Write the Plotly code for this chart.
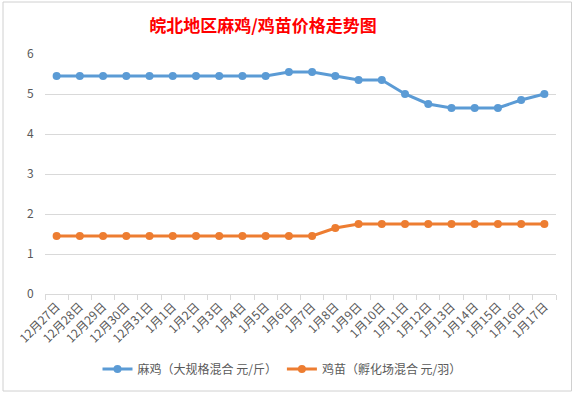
import plotly.graph_objects as go

dates = ["12月27日", "12月28日", "12月29日", "12月30日", "12月31日",
         "1月1日", "1月2日", "1月3日", "1月4日", "1月5日", "1月6日", "1月7日",
         "1月8日", "1月9日", "1月10日", "1月11日", "1月12日", "1月13日",
         "1月14日", "1月15日", "1月16日", "1月17日"]
maji = [5.45, 5.45, 5.45, 5.45, 5.45, 5.45, 5.45, 5.45, 5.45, 5.45, 5.55, 5.55,
        5.45, 5.35, 5.35, 5.0, 4.75, 4.65, 4.65, 4.65, 4.85, 5.0]
jimiao = [1.45, 1.45, 1.45, 1.45, 1.45, 1.45, 1.45, 1.45, 1.45, 1.45, 1.45, 1.45,
          1.65, 1.75, 1.75, 1.75, 1.75, 1.75, 1.75, 1.75, 1.75, 1.75]
name1 = "麻鸡（大规格混合 元/斤）"
name2 = "鸡苗（孵化场混合 元/羽）"
title = "皖北地区麻鸡/鸡苗价格走势图"
yticks = [0, 1, 2, 3, 4, 5, 6]

W, H = 574, 393
L, R, T, B = 45, 18, 54, 99
pw, ph = W - L - R, H - T - B

def px(x):
    return (x - L) / pw

def py(y):
    return (H - B - y) / ph

fig = go.Figure()
fig.add_trace(go.Scatter(x=dates, y=maji, name=name1, mode="lines+markers",
                         line=dict(color="#5B9BD5", width=3),
                         marker=dict(size=8, color="#5B9BD5")))
fig.add_trace(go.Scatter(x=dates, y=jimiao, name=name2, mode="lines+markers",
                         line=dict(color="#ED7D31", width=3),
                         marker=dict(size=8, color="#ED7D31")))

fig.update_layout(
    width=W, height=H,
    margin=dict(l=L, r=R, t=T, b=B, autoexpand=False),
    paper_bgcolor="white", plot_bgcolor="white",
    font=dict(family="Noto Sans CJK SC", color="#595959", size=12),
    title=dict(text="<b>" + title + "</b>", x=263 / W, xanchor="center",
               y=1 - 26 / H, yanchor="middle",
               font=dict(family="Noto Sans CJK SC", size=17, color="#FF0000")),
    showlegend=True,
    legend=dict(orientation="h", x=282 / W, xref="container", xanchor="center",
                y=1 - 369 / H, yref="container", yanchor="middle",
                font=dict(size=12, color="#595959"), itemwidth=30,
                bgcolor="rgba(0,0,0,0)"),
    xaxis=dict(type="category", range=[-0.5, len(dates) - 0.5], showgrid=False,
               showline=True, linecolor="#D9D9D9",
               linewidth=1, ticks="outside", ticklen=5, tickcolor="#D9D9D9",
               tickson="boundaries", tickangle=-45, automargin=False,
               tickfont=dict(size=12, color="#595959"), fixedrange=True),
    yaxis=dict(range=[0, 6], tickvals=yticks, showgrid=True, gridcolor="#D9D9D9",
               gridwidth=1, zeroline=False, showline=False, ticks="outside",
               ticklen=8, tickcolor="rgba(0,0,0,0)", automargin=False,
               tickfont=dict(size=12, color="#595959")),
    shapes=[dict(type="rect", xref="paper", yref="paper",
                 x0=px(3), x1=px(571.5), y0=py(391), y1=py(2),
                 line=dict(color="#D0D0D0", width=1), layer="below")],
)

fig.write_html("out.html", config={"displayModeBar": False},
               post_script="document.body.style.margin='0';")
